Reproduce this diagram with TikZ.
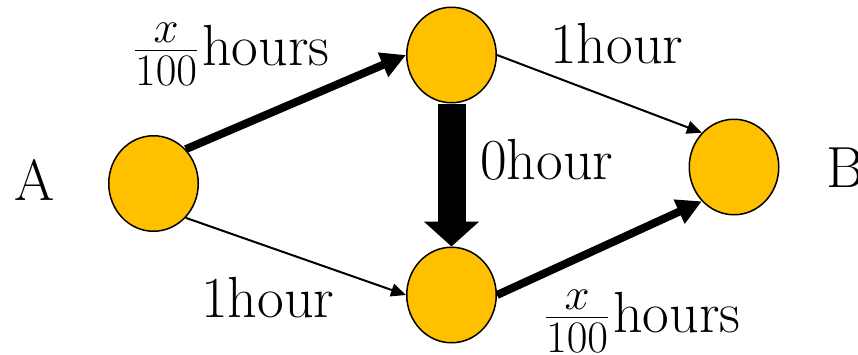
\documentclass[tikz,border=0pt]{standalone}
\usepackage{fix-cm}
\DeclareMathSizes{58}{58}{45}{32}
\usetikzlibrary{shapes.geometric,arrows.meta}
\definecolor{gold}{HTML}{FFC000}
\newcommand\mylblfont{\fontsize{58}{66}\selectfont\setlength{\nulldelimiterspace}{5pt}}
\begin{document}
\begin{tikzpicture}[x=1pt,y=-1pt,
  vert/.style={ellipse,draw=black,line width=1.5pt,fill=gold,minimum width=89.5pt,minimum height=95.5pt,inner sep=0pt},
  lbl/.style={inner sep=0pt,anchor=base west,font=\mylblfont},
  thinarrow/.style={line width=2pt,-{Triangle[length=15pt,width=13pt]}},
  thickarrow/.style={line width=8pt,-{Triangle[length=25pt,width=25pt]}},
  fatarrow/.style={line width=28pt,-{Triangle[length=25pt,width=54pt]}}]
\useasboundingbox (0,0) rectangle (858,354);
\node[vert] (a) at (153.5,183.5) {};
\node[vert] (t) at (451.5,55) {};
\node[vert] (b) at (451.5,295) {};
\node[vert] (r) at (734,167) {};
\draw[thickarrow] (a.north east) -- (t.west);
\draw[thinarrow] (a.south east) -- (b.west);
\draw[thinarrow] (t.east) -- (r.north west);
\draw[thickarrow] (b.east) -- (r.south west);
\draw[fatarrow] (t.south) -- (b.north);
\node[lbl] (la) at (14,200) {A};
\node[lbl] (lb) at (826,187) {B};
\node[lbl] (l1) at (130,65) {$\frac{x}{100}$hours};
\node[lbl] (l2) at (550,63) {1hour};
\node[lbl] (l3) at (480,179) {0hour};
\node[lbl] (l4) at (201,317) {1hour};
\node[lbl] (l5) at (541,332) {$\frac{x}{100}$hours};
\end{tikzpicture}
\end{document}
